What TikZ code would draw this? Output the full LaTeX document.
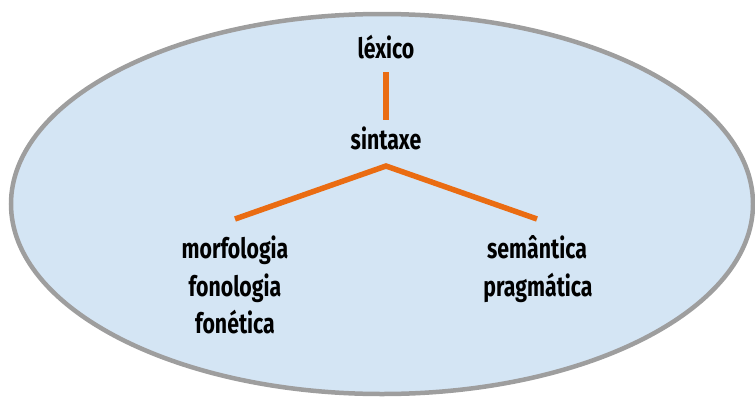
\documentclass[tikz,border=0pt]{standalone}
\usepackage{fontspec}
\setsansfont{Fira Sans}[FakeStretch=0.76]
\definecolor{ramo}{RGB}{234,108,18}
\definecolor{fundo}{RGB}{212,229,244}
\definecolor{borda}{RGB}{158,158,158}
\begin{document}
\begin{tikzpicture}[x=1pt,y=-1pt,
  termo/.style={anchor=base,inner sep=0pt,font=\sffamily\bfseries\fontsize{28}{32}\selectfont},
  ramo/.style={draw=ramo,line width=5.5pt}]
\useasboundingbox (0,0) rectangle (755,397);
\draw[borda,fill=fundo,line width=4.5pt] (382,204) ellipse (371 and 190);
\node[termo] (lexico) at (386,58) {léxico};
\node[termo] (sintaxe) at (386,149) {sintaxe};
\node[termo] (morf) at (235,258) {morfologia};
\node[termo] (fono) at (235,296) {fonologia};
\node[termo] (fonet) at (235,333) {fonética};
\node[termo] (sem) at (537,258) {semântica};
\node[termo] (prag) at (538,296) {pragmática};
\draw[ramo] ([yshift=-14pt]lexico.base) -- ([yshift=29pt]sintaxe.base);
\draw[ramo] ([yshift=39pt]morf.base) -- ([yshift=-17pt]sintaxe.base) -- ([yshift=39pt]sem.base);
\end{tikzpicture}
\end{document}
